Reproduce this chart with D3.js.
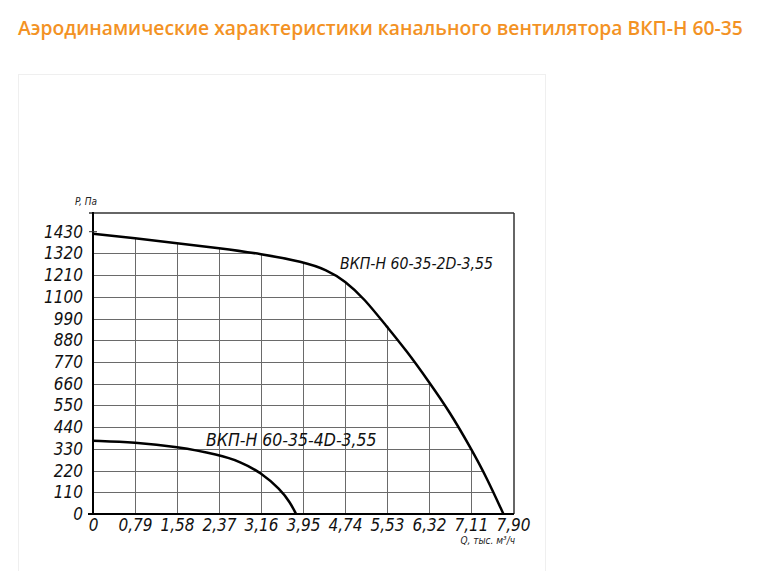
<!DOCTYPE html>
<html>
<head>
<meta charset="utf-8">
<script src="https://cdn.jsdelivr.net/npm/d3@7"></script>
<style>
  body { margin: 0; background: #fff; }
  .tick text { font-family: "Liberation Sans Narrow", "DejaVu Sans Condensed", "Open Sans", sans-serif; font-style: italic; fill: #111; }
</style>
</head>
<body>
<svg id="chart" width="768" height="571"></svg>
<script>
// aerodynamic characteristics, Q in thousand m3/h, P in Pa
var xTicks = [0, 0.79, 1.58, 2.37, 3.16, 3.95, 4.74, 5.53, 6.32, 7.11, 7.90];
var yTicks = [0, 110, 220, 330, 440, 550, 660, 770, 880, 990, 1100, 1210, 1320, 1430];

var q2D = [0, 0.79, 1.58, 2.37, 3.16, 3.95, 4.4, 4.74, 5.1, 5.53, 5.9, 6.32, 6.71, 7.11, 7.4, 7.72];
var p2D = [1420, 1397, 1372, 1347, 1318, 1278, 1237, 1181, 1092, 948, 826, 669, 517, 332, 187, 0];

var q4D = [0, 0.79, 1.58, 2.37, 2.77, 3.16, 3.52, 3.71, 3.82];
var p4D = [371, 363, 341, 300, 265, 210, 125, 58, 0];

var title = "Аэродинамические характеристики канального вентилятора ВКП-Н 60-35";
var label2D = "ВКП-Н 60-35-2D-3,55";
var label4D = "ВКП-Н 60-35-4D-3,55";

var svg = d3.select("#chart");
var font = '"Liberation Sans Narrow", "DejaVu Sans Condensed", "Open Sans", sans-serif';

// page title
svg.append("text")
    .attr("x", 18).attr("y", 35)
    .attr("font-family", '"Open Sans", sans-serif')
    .attr("font-weight", 600)
    .attr("font-size", 19.3)
    .attr("fill", "#f39224")
    .text(title);

// card
svg.append("rect")
    .attr("x", 18.5).attr("y", 74.5)
    .attr("width", 527).attr("height", 520)
    .attr("fill", "#fff")
    .attr("stroke", "#efefef");

var plotLeft = 93, plotRight = 514, plotTop = 213, plotBottom = 514;

var x = d3.scaleLinear().domain([0, 7.90]).range([plotLeft, 513]);
var y = d3.scaleLinear().domain([0, 1430]).range([plotBottom, 231.7]);

var data2D = q2D.map(function(q, i) { return {q: q, p: p2D[i]}; });
var data4D = q4D.map(function(q, i) { return {q: q, p: p4D[i]}; });

var line = d3.line()
    .curve(d3.curveBasis)
    .x(function(d) { return x(d.q); })
    .y(function(d) { return y(d.p); });

var area = d3.area()
    .curve(d3.curveBasis)
    .x(function(d) { return x(d.q); })
    .y0(plotBottom)
    .y1(function(d) { return y(d.p); });

// grid is only drawn under the 2D curve
svg.append("clipPath").attr("id", "under")
    .append("path").datum(data2D).attr("d", area);

var grid = svg.append("g").attr("clip-path", "url(#under)")
    .attr("stroke", "#6a6a6a").attr("stroke-width", 1);

grid.selectAll("line.h").data(yTicks).enter().append("line")
    .attr("x1", plotLeft).attr("x2", plotRight)
    .attr("y1", function(d) { return Math.round(y(d)) + 0.5; })
    .attr("y2", function(d) { return Math.round(y(d)) + 0.5; });

grid.selectAll("line.v").data(xTicks).enter().append("line")
    .attr("y1", plotTop).attr("y2", plotBottom)
    .attr("x1", function(d) { return Math.round(x(d)) + 0.5; })
    .attr("x2", function(d) { return Math.round(x(d)) + 0.5; });

// frame
svg.append("line").attr("x1", 89).attr("x2", plotRight).attr("y1", plotTop).attr("y2", plotTop)
    .attr("stroke", "#333").attr("stroke-width", 1.5);
svg.append("line").attr("x1", plotRight).attr("x2", plotRight).attr("y1", plotTop).attr("y2", plotBottom)
    .attr("stroke", "#333").attr("stroke-width", 1.5);

var fmt = function(d) { return d === 0 ? "0" : d3.format(".2f")(d).replace(".", ","); };

svg.append("g")
    .attr("transform", "translate(" + plotLeft + ",0)")
    .call(d3.axisLeft(y).tickValues(yTicks).tickSize(0).tickPadding(10).tickFormat(d3.format("d")))
    .call(function(g) { g.select(".domain").remove(); })
    .selectAll("text").attr("font-size", 17);

svg.append("g")
    .attr("transform", "translate(0," + plotBottom + ")")
    .call(d3.axisBottom(x).tickValues(xTicks).tickSize(0).tickPadding(5).tickFormat(fmt))
    .call(function(g) { g.select(".domain").remove(); })
    .selectAll("text").attr("font-size", 17);

// axes
svg.append("line").attr("x1", plotLeft).attr("x2", plotLeft).attr("y1", plotTop - 1).attr("y2", plotBottom + 1)
    .attr("stroke", "#000").attr("stroke-width", 2);
svg.append("line").attr("x1", 88).attr("x2", plotRight).attr("y1", plotBottom).attr("y2", plotBottom)
    .attr("stroke", "#000").attr("stroke-width", 2);
svg.append("line").attr("x1", 89).attr("x2", 97).attr("y1", y(1430)).attr("y2", y(1430))
    .attr("stroke", "#333").attr("stroke-width", 1);

// curves
svg.append("path").datum(data2D).attr("d", line)
    .attr("fill", "none").attr("stroke", "#000").attr("stroke-width", 2.5);
svg.append("path").datum(data4D).attr("d", line)
    .attr("fill", "none").attr("stroke", "#000").attr("stroke-width", 2.5);

// labels
svg.append("text").attr("x", 340).attr("y", 269)
    .attr("font-family", font).attr("font-style", "italic").attr("font-size", 15.7)
    .attr("fill", "#111").text(label2D);
svg.append("text").attr("x", 206).attr("y", 446)
    .attr("font-family", font).attr("font-style", "italic").attr("font-size", 17.5)
    .attr("fill", "#111").text(label4D);

svg.append("text").attr("x", 75).attr("y", 205)
    .attr("font-family", font).attr("font-style", "italic").attr("font-size", 10)
    .attr("fill", "#222").text("P, Па");
svg.append("text").attr("x", 515).attr("y", 544).attr("text-anchor", "end")
    .attr("font-family", font).attr("font-style", "italic").attr("font-size", 10)
    .attr("fill", "#222").text("Q, тыс. м³/ч");
</script>
</body>
</html>
